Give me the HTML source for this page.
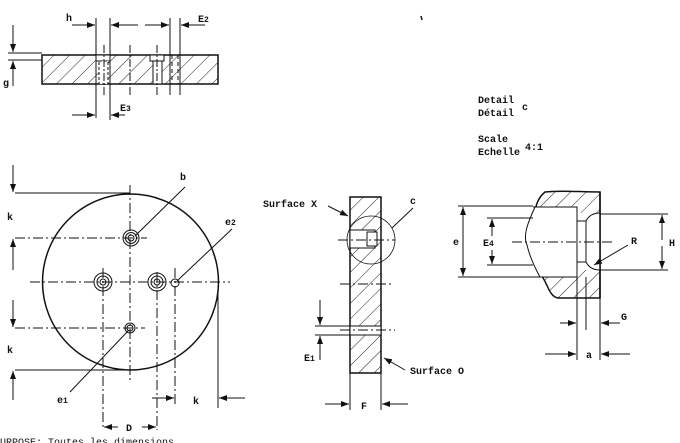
<!DOCTYPE html>
<html><head><meta charset="utf-8"><style>
html,body{margin:0;padding:0;background:#fff;}
svg{display:block}
text{font-family:"Liberation Mono",monospace;font-weight:bold;font-size:10px;fill:#111}
</style></head><body>
<svg width="680" height="443" viewBox="0 0 680 443" xmlns="http://www.w3.org/2000/svg">
<defs>
<pattern id="h" patternUnits="userSpaceOnUse" width="11" height="11" patternTransform="rotate(45)">
<rect width="11" height="11" fill="#fff"/><line x1="0" y1="0" x2="0" y2="11" stroke="#222" stroke-width="1"/>
</pattern>
<marker id="a" markerWidth="8" markerHeight="6" refX="8" refY="3" orient="auto" markerUnits="userSpaceOnUse">
<path d="M0,0 L8,3 L0,6 z" fill="#111"/></marker>
</defs>
<g stroke="#111" fill="none" stroke-width="1">
<rect x="42" y="55" width="176" height="29" fill="url(#h)" stroke-width="1.5"/>
<rect x="96" y="55" width="14" height="6" fill="#fff"/>
<rect x="99" y="61" width="9" height="23" fill="#fff" stroke-dasharray="3,2"/>
<rect x="150" y="55" width="14" height="6" fill="#fff"/>
<rect x="153" y="61" width="9" height="23" fill="#fff"/>
<line x1="172" y1="55" x2="172" y2="84" stroke-dasharray="4,3"/>
<line x1="178" y1="55" x2="178" y2="84" stroke-dasharray="4,3"/>
<line x1="104" y1="45" x2="104" y2="95" stroke-dasharray="8,2,2,2"/>
<line x1="130" y1="45" x2="130" y2="95" stroke-dasharray="8,2,2,2"/>
<line x1="157" y1="45" x2="157" y2="95" stroke-dasharray="8,2,2,2"/>
<line x1="96" y1="18" x2="96" y2="118"/><line x1="110" y1="18" x2="110" y2="120"/>
<line x1="170" y1="18" x2="170" y2="95"/><line x1="180" y1="18" x2="180" y2="95"/>
<line x1="72" y1="25" x2="95" y2="25" marker-end="url(#a)"/>
<line x1="138" y1="25" x2="111" y2="25" marker-end="url(#a)"/>
<line x1="145" y1="25" x2="169" y2="25" marker-end="url(#a)"/>
<line x1="205" y1="25" x2="181" y2="25" marker-end="url(#a)"/>
<line x1="8" y1="53" x2="42" y2="53"/><line x1="8" y1="60" x2="42" y2="60"/>
<line x1="13" y1="25" x2="13" y2="52" marker-end="url(#a)"/>
<line x1="13" y1="86" x2="13" y2="61" marker-end="url(#a)"/>
<line x1="72" y1="115" x2="95" y2="115" marker-end="url(#a)"/>
<line x1="125" y1="115" x2="111" y2="115" marker-end="url(#a)"/>
<circle cx="130.5" cy="282" r="88" stroke-width="1.5"/>
<g stroke-dasharray="10,3,2,3">
<line x1="15" y1="238" x2="147" y2="238"/>
<line x1="30" y1="282" x2="230" y2="282"/>
<line x1="15" y1="328" x2="145" y2="328"/>
<line x1="130" y1="185" x2="130" y2="380"/>
<line x1="103" y1="268" x2="103" y2="430"/>
<line x1="157" y1="272" x2="157" y2="430"/>
<line x1="175" y1="268" x2="175" y2="405"/>
</g>
<line x1="218" y1="290" x2="218" y2="408"/>
<line x1="15" y1="193" x2="130" y2="193"/><line x1="15" y1="370" x2="130" y2="370"/>
<circle cx="131" cy="238" r="8"/><circle cx="131" cy="238" r="5.5"/><circle cx="131" cy="238" r="3"/>
<circle cx="103" cy="282" r="9"/><circle cx="103" cy="282" r="6"/><circle cx="103" cy="282" r="3"/>
<circle cx="157" cy="282" r="9"/><circle cx="157" cy="282" r="6"/><circle cx="157" cy="282" r="3"/>
<circle cx="175" cy="283" r="4"/>
<circle cx="130" cy="328" r="5"/><circle cx="130" cy="328" r="3"/>
<line x1="13" y1="165" x2="13" y2="192" marker-end="url(#a)"/>
<line x1="13" y1="270" x2="13" y2="239" marker-end="url(#a)"/>
<line x1="13" y1="300" x2="13" y2="327" marker-end="url(#a)"/>
<line x1="13" y1="400" x2="13" y2="371" marker-end="url(#a)"/>
<line x1="152" y1="398" x2="174" y2="398" marker-end="url(#a)"/>
<line x1="245" y1="398" x2="219" y2="398" marker-end="url(#a)"/>
<line x1="118" y1="427" x2="104" y2="427" marker-end="url(#a)"/>
<line x1="142" y1="427" x2="156" y2="427" marker-end="url(#a)"/>
<line x1="185" y1="187" x2="135" y2="236"/>
<line x1="232" y1="229" x2="177" y2="281"/>
<line x1="70" y1="392" x2="128" y2="331"/>
<rect x="350" y="197" width="31" height="176" fill="url(#h)" stroke-width="1.5"/>
<rect x="350" y="230" width="25" height="18" fill="#fff"/>
<rect x="367" y="232" width="10" height="14" fill="#fff"/>
<rect x="350" y="326" width="31" height="9" fill="#fff"/>
<line x1="340" y1="330" x2="395" y2="330" stroke-dasharray="10,3,2,3"/>
<line x1="338" y1="240" x2="395" y2="240" stroke-dasharray="10,3,2,3"/>
<line x1="340" y1="284" x2="393" y2="284" stroke-dasharray="10,3,2,3"/>
<circle cx="371" cy="240" r="24" stroke-width="0.8"/>
<line x1="413" y1="208" x2="392" y2="228"/>
<line x1="328" y1="206" x2="348" y2="216" marker-end="url(#a)"/>
<line x1="405" y1="370" x2="384" y2="358" marker-end="url(#a)"/>
<line x1="315" y1="326" x2="350" y2="326"/><line x1="315" y1="335" x2="350" y2="335"/>
<line x1="320" y1="300" x2="320" y2="325" marker-end="url(#a)"/>
<line x1="320" y1="360" x2="320" y2="336" marker-end="url(#a)"/>
<line x1="350" y1="373" x2="350" y2="410"/><line x1="381" y1="373" x2="381" y2="410"/>
<line x1="325" y1="404" x2="349" y2="404" marker-end="url(#a)"/>
<line x1="408" y1="404" x2="382" y2="404" marker-end="url(#a)"/>
<path d="M545,192 C560,190 580,192 600,192 L600,298 L558,298 C548,296 548,282 540,274 L533,262 C530,250 525,240 533,224 C535,212 535,200 545,192 z" fill="url(#h)" stroke-width="1.5"/>
<rect x="520" y="207" width="57" height="70" fill="#fff" stroke="none"/>
<path d="M533,207 L577,207 L577,277 L540,277" />
<path d="M535,207 C530,218 522,235 527,245 C530,258 535,268 540,277" fill="none"/>
<rect x="577" y="213" width="23" height="57" fill="#fff" stroke="none"/>
<path d="M577,207 L577,277 M586,221 L586,262 M577,221 L586,221 M577,262 L586,262 M586,221 Q590,213 600,213 M586,262 Q590,270 600,270"/>
<line x1="600" y1="192" x2="600" y2="298" stroke-width="1.5"/>
<line x1="458" y1="206" x2="533" y2="206"/><line x1="458" y1="277" x2="540" y2="277"/>
<line x1="463" y1="242" x2="463" y2="207" marker-end="url(#a)"/>
<line x1="463" y1="242" x2="463" y2="276" marker-end="url(#a)"/>
<line x1="487" y1="218" x2="533" y2="218"/><line x1="487" y1="265" x2="533" y2="265"/>
<line x1="492" y1="236" x2="492" y2="219" marker-end="url(#a)"/>
<line x1="492" y1="250" x2="492" y2="264" marker-end="url(#a)"/>
<line x1="512" y1="242" x2="612" y2="242" stroke-dasharray="10,3,2,3"/>
<line x1="600" y1="214" x2="668" y2="214"/><line x1="600" y1="270" x2="668" y2="270"/>
<line x1="662" y1="240" x2="662" y2="215" marker-end="url(#a)"/>
<line x1="662" y1="246" x2="662" y2="269" marker-end="url(#a)"/>
<line x1="628" y1="245" x2="594" y2="265" marker-end="url(#a)"/>
<line x1="577" y1="277" x2="577" y2="360"/><line x1="586" y1="277" x2="586" y2="330"/><line x1="600" y1="298" x2="600" y2="360"/>
<line x1="560" y1="323" x2="576" y2="323" marker-end="url(#a)"/>
<line x1="620" y1="323" x2="601" y2="323" marker-end="url(#a)"/>
<line x1="545" y1="354" x2="576" y2="354" marker-end="url(#a)"/>
<line x1="630" y1="354" x2="601" y2="354" marker-end="url(#a)"/>
<line x1="421" y1="16" x2="422" y2="20" stroke-width="1.5"/>
</g>
<text x="66" y="21">h</text><text x="198" y="22">E<tspan font-size="8">2</tspan></text><text x="3" y="86">g</text><text x="120" y="111">E<tspan font-size="8">3</tspan></text>
<text x="180" y="180">b</text><text x="225" y="225">e<tspan font-size="8">2</tspan></text><text x="7" y="220">k</text><text x="7" y="353">k</text>
<text x="57" y="403">e<tspan font-size="8">1</tspan></text><text x="193" y="404">k</text><text x="126" y="431">D</text>
<text x="263" y="207">Surface X</text><text x="410" y="204">c</text><text x="410" y="374">Surface O</text>
<text x="304" y="361">E<tspan font-size="8">1</tspan></text><text x="361" y="409">F</text>
<text x="453" y="245">e</text><text x="483" y="246">E<tspan font-size="8">4</tspan></text><text x="631" y="244">R</text><text x="669" y="246">H</text>
<text x="621" y="320">G</text><text x="586" y="358">a</text>
<text x="478" y="103">Detail</text><text x="478" y="116">Détail</text><text x="522" y="110">c</text>
<text x="478" y="142">Scale</text><text x="478" y="155">Echelle</text><text x="525" y="150">4:1</text>
<text x="0" y="445" style="font-weight:normal">URPOSE: Toutes les dimensions</text>
</svg>
</body></html>
